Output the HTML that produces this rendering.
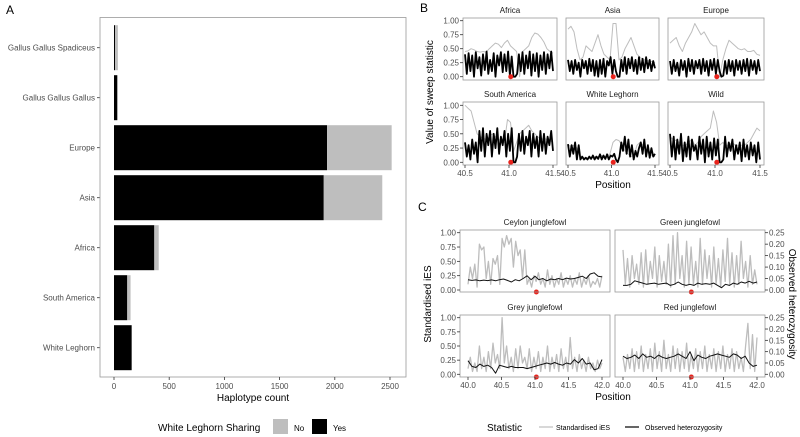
<!DOCTYPE html>
<html><head><meta charset="utf-8"><style>
html,body{margin:0;padding:0;background:#fff}
svg{display:block;font-family:"Liberation Sans",sans-serif}
</style></head><body>
<svg id="fig" width="800" height="437" viewBox="0 0 800 437"></svg>
<script>
// ---- Panel A data ----
const aCategories=["Gallus Gallus Spadiceus","Gallus Gallus Gallus","Europe","Asia","Africa","South America","White Leghorn"];
const aYes=[10,30,1930,1900,365,120,160];
const aNo=[25,0,585,530,40,30,0];
const aTicks=[0,500,1000,1500,2000,2500];
// ---- Panel B data (values 40.5..41.5, equally spaced) ----
const bPanels=["Africa","Asia","Europe","South America","White Leghorn","Wild"];
const bTicks=[40.5,41.0,41.5];
const bGray=[
[0.45,0.46,0.5,0.48,0.45,0.44,0.45,0.44,0.5,0.55,0.6,0.58,0.52,0.6,0.65,0.55,0.5,0.45,0.0,0.45,0.5,0.55,0.7,0.78,0.76,0.7,0.62,0.5,0.45,0.42],
[0.85,0.9,0.8,0.5,0.3,0.35,0.55,0.5,0.45,0.6,0.75,0.55,0.4,0.35,0.3,0.95,0.95,0.3,0.35,0.5,0.6,0.7,0.55,0.4,0.35,0.3,0.3,0.28,0.27,0.25],
[0.6,0.65,0.7,0.55,0.45,0.6,0.7,0.8,0.95,0.85,0.75,0.8,0.7,0.6,0.55,0.55,0.0,0.3,0.5,0.65,0.6,0.55,0.5,0.48,0.5,0.45,0.45,0.47,0.4,0.38],
[1.0,0.95,0.9,0.7,0.5,0.45,0.42,0.4,0.45,0.5,0.45,0.4,0.38,0.35,0.75,0.7,0.2,0.35,0.5,0.55,0.6,0.65,0.55,0.5,0.45,0.4,0.42,0.4,0.38,0.35],
[0.3,0.28,0.3,0.25,0.1,0.08,0.08,0.07,0.08,0.1,0.1,0.12,0.1,0.1,0.15,0.35,0.4,0.38,0.3,0.2,0.15,0.1,0.12,0.3,0.35,0.3,0.2,0.15,0.12,0.1],
[0.45,0.4,0.38,0.35,0.3,0.3,0.35,0.4,0.3,0.35,0.45,0.5,0.55,0.6,0.9,0.7,0.3,0.35,0.3,0.3,0.35,0.3,0.3,0.3,0.3,0.35,0.4,0.5,0.6,0.55]];
const bBlack=[
[0.4,0.05,0.42,0.1,0.38,0.0,0.44,0.15,0.35,0.02,0.4,0.12,0.45,0.05,0.3,0.1,0.42,0.0,0.38,0.2,0.44,0.08,0.4,0.1,0.45,0.02,0.36,0.0,0.0,0.05,0.4,0.1,0.44,0.05,0.38,0.15,0.45,0.02,0.4,0.1,0.42,0.0,0.38,0.12,0.44,0.05,0.4,0.15,0.45,0.1],
[0.3,0.1,0.28,0.05,0.3,0.12,0.25,0.0,0.3,0.15,0.28,0.05,0.32,0.1,0.3,0.02,0.28,0.0,0.3,0.05,0.32,0.0,0.28,0.2,0.35,0.05,0.3,0.1,0.0,0.0,0.3,0.1,0.35,0.05,0.32,0.15,0.35,0.1,0.3,0.05,0.35,0.12,0.32,0.08,0.35,0.15,0.3,0.1,0.28,0.15],
[0.28,0.05,0.3,0.1,0.25,0.02,0.3,0.12,0.28,0.0,0.32,0.1,0.3,0.05,0.28,0.15,0.3,0.05,0.32,0.1,0.28,0.02,0.3,0.12,0.32,0.05,0.3,0.1,0.0,0.02,0.28,0.05,0.3,0.1,0.28,0.02,0.3,0.12,0.28,0.05,0.3,0.1,0.32,0.02,0.3,0.12,0.28,0.05,0.3,0.1],
[0.35,0.1,0.3,0.05,0.4,0.15,0.35,0.0,0.55,0.2,0.6,0.1,0.5,0.3,0.55,0.1,0.5,0.25,0.6,0.15,0.45,0.3,0.55,0.1,0.5,0.2,0.6,0.0,0.0,0.1,0.5,0.2,0.55,0.15,0.45,0.3,0.55,0.1,0.5,0.25,0.45,0.1,0.55,0.2,0.5,0.15,0.45,0.3,0.55,0.2],
[0.32,0.1,0.3,0.15,0.35,0.05,0.3,0.05,0.1,0.05,0.08,0.05,0.1,0.06,0.12,0.05,0.1,0.06,0.14,0.05,0.12,0.06,0.14,0.05,0.12,0.1,0.15,0.05,0.0,0.1,0.35,0.2,0.45,0.15,0.4,0.1,0.3,0.05,0.2,0.1,0.25,0.35,0.15,0.4,0.1,0.3,0.08,0.25,0.1,0.15],
[0.5,0.1,0.45,0.05,0.4,0.15,0.5,0.02,0.35,0.1,0.45,0.05,0.4,0.2,0.3,0.05,0.45,0.15,0.4,0.0,0.45,0.1,0.35,0.05,0.42,0.12,0.4,0.0,0.0,0.05,0.45,0.1,0.35,0.2,0.4,0.05,0.3,0.15,0.35,0.02,0.4,0.1,0.3,0.05,0.35,0.12,0.3,0.0,0.35,0.05]];
// ---- Panel C data (40.0..42.0) ----
const cPanels=["Ceylon junglefowl","Green junglefowl","Grey junglefowl","Red junglefowl"];
const cTicks=[40.0,40.5,41.0,41.5,42.0];
const cLeftTicks=[0,0.25,0.5,0.75,1.0];
const cRightTicks=[0,0.05,0.1,0.15,0.2,0.25];
const cIES=[
[0.1,0.4,0.2,0.45,0.05,0.8,0.7,0.75,0.2,0.5,0.1,0.55,0.45,0.6,0.1,0.9,0.75,0.95,0.8,0.9,0.4,0.85,0.6,0.7,0.2,0.7,0.1,0.2,0.05,0.25,0.15,0.3,0.1,0.2,0.05,0.35,0.1,0.25,0.05,0.2,0.1,0.3,0.05,0.2,0.1,0.25,0.05,0.2,0.1,0.3,0.05,0.2,0.1,0.25,0.05,0.15,0.1,0.2,0.05,0.25],
[0.7,0.1,0.55,0.05,0.6,0.2,0.45,0.1,0.65,0.05,0.7,0.1,0.5,0.2,0.75,0.05,0.6,0.15,0.5,0.1,0.8,0.05,0.95,0.1,1.0,0.2,0.6,0.05,0.85,0.1,0.75,0.1,0.5,0.05,0.9,0.1,0.7,0.2,0.6,0.05,0.75,0.1,0.55,0.05,0.7,0.15,0.9,0.1,0.65,0.05,0.6,0.1,0.85,0.2,0.5,0.05,0.6,0.1,0.35,0.1],
[0.1,0.3,0.05,0.2,0.05,0.5,0.1,0.3,0.05,0.4,0.1,0.55,0.2,0.35,0.1,1.0,0.2,0.5,0.1,0.3,0.05,0.45,0.1,0.5,0.2,0.3,0.1,0.45,0.05,0.3,0.1,0.4,0.05,0.3,0.1,0.5,0.05,0.3,0.1,0.35,0.05,0.45,0.1,0.3,0.05,0.65,0.1,0.3,0.05,0.35,0.1,0.25,0.05,0.3,0.1,0.2,0.05,0.25,0.1,0.2],
[0.3,0.05,0.35,0.1,0.45,0.05,0.4,0.1,0.5,0.05,0.35,0.1,0.45,0.05,0.55,0.1,0.4,0.05,0.6,0.1,0.35,0.05,0.5,0.1,0.45,0.05,0.4,0.1,0.55,0.05,0.35,0.1,0.45,0.05,0.4,0.1,0.5,0.05,0.35,0.1,0.45,0.05,0.4,0.1,0.5,0.05,0.35,0.1,0.45,0.05,0.4,0.1,0.3,0.05,0.5,0.9,0.1,0.7,0.05,0.65]];
const cHet=[
[0.045,0.042,0.044,0.04,0.043,0.041,0.044,0.04,0.045,0.048,0.042,0.035,0.045,0.04,0.05,0.062,0.045,0.06,0.045,0.05,0.04,0.048,0.045,0.05,0.045,0.052,0.048,0.05,0.055,0.06,0.05,0.07,0.075,0.06,0.057],
[0.02,0.02,0.025,0.04,0.035,0.03,0.025,0.028,0.03,0.025,0.028,0.03,0.02,0.025,0.035,0.025,0.02,0.025,0.02,0.03,0.025,0.028,0.025,0.03,0.02,0.01,0.025,0.02,0.03,0.025,0.035,0.03,0.038,0.03,0.035],
[0.06,0.035,0.03,0.045,0.035,0.04,0.03,0.005,0.04,0.035,0.03,0.035,0.03,0.03,0.03,0.025,0.03,0.035,0.04,0.045,0.05,0.045,0.052,0.045,0.04,0.05,0.045,0.065,0.05,0.07,0.045,0.05,0.02,0.025,0.065],
[0.08,0.07,0.075,0.085,0.07,0.09,0.075,0.08,0.07,0.085,0.075,0.07,0.075,0.08,0.09,0.08,0.07,0.1,0.06,0.085,0.075,0.07,0.08,0.085,0.09,0.085,0.08,0.075,0.09,0.085,0.07,0.08,0.05,0.035,0.04]];

const NS="http://www.w3.org/2000/svg";
const svg=document.getElementById('fig');
function mk(tag,attrs,parent){const e=document.createElementNS(NS,tag);for(const k in attrs)e.setAttribute(k,attrs[k]);(parent||svg).appendChild(e);return e;}
function txt(s,x,y,size,fill,anchor,parent,rot){const t=mk('text',{x:x,y:y,'font-size':size,fill:fill,'text-anchor':anchor||'start'},parent);if(rot)t.setAttribute('transform','rotate('+rot+' '+x+' '+y+')');t.textContent=s;return t;}
function path(vals,xs,ys,x0,x1,stroke,w,parent){let d='';const n=vals.length;for(let i=0;i<n;i++){const x=xs(x0+(x1-x0)*i/(n-1));d+=(i?'L':'M')+x.toFixed(1)+' '+ys(vals[i]).toFixed(1);}return mk('path',{d:d,fill:'none',stroke:stroke,'stroke-width':w,'stroke-linejoin':'round'},parent);}

// ===== Panel A =====
const gA=mk('g',{});


txt('A',6,14,12,'#000','start',gA);
const ax=v=>114+v*0.1104;
const ayC=i=>47.7+i*50;
aCategories.forEach((c,i)=>{
  const y=ayC(i);
  const r1=mk('rect',{x:ax(0),y:y-22.5,width:ax(aYes[i])-ax(0),height:45,fill:'#000'},gA);
  
  
  if(aNo[i]>0){const r2=mk('rect',{x:ax(aYes[i]),y:y-22.5,width:ax(aYes[i]+aNo[i])-ax(aYes[i]),height:45,fill:'#bebebe'},gA);
  
  }
  mk('line',{x1:97,x2:100,y1:y,y2:y,stroke:'#333','stroke-width':0.8},gA);
  txt(c,95,y+3,8,'#4d4d4d','end',gA);
});
mk('rect',{x:100,y:17.5,width:306,height:359.5,fill:'none',stroke:'#999','stroke-width':0.8},gA);
aTicks.forEach(t=>{mk('line',{x1:ax(t),x2:ax(t),y1:377,y2:380,stroke:'#333','stroke-width':0.8},gA);txt(String(t),ax(t),389,8,'#4d4d4d','middle',gA);});
txt('Haplotype count',253,401,10,'#000','middle',gA);
txt('White Leghorn Sharing',158,431,10,'#000','start',gA);
mk('rect',{x:273,y:419,width:15,height:15,fill:'#bebebe'},gA);
txt('No',294,431,8,'#000','start',gA);
mk('rect',{x:312,y:419,width:15,height:15,fill:'#000'},gA);
txt('Yes',333,431,8,'#000','start',gA);

// ===== Panel B =====
const gB=mk('g',{});


txt('B',420,12,12,'#000','start',gB);
const bCols=[[463,557],[566,659],[668,764]];
const bRows=[[18,80,20.7,76.7],[102,165,105.3,162.3]];
bPanels.forEach((name,k)=>{
  const c=bCols[k%3],r=bRows[Math.floor(k/3)];
  const g=mk('g',{},gB);
  
  
  const xs=v=>c[0]+2+(v-40.5)/1.0*(c[1]-c[0]-6);
  const ys=v=>r[3]+(r[2]-r[3])*v;
  path(bGray[k],xs,ys,40.5,41.5,'#bdbdbd',1,g);
  path(bBlack[k],xs,ys,40.5,41.5,'#000',1.8,g);
  mk('circle',{cx:xs(41.02),cy:ys(0),r:2.5,fill:'#e8231c'},g);
  mk('rect',{x:c[0],y:r[0],width:c[1]-c[0],height:r[1]-r[0],fill:'none',stroke:'#999','stroke-width':0.8},g);
  txt(name,(c[0]+c[1])/2,r[0]-5,8,'#1a1a1a','middle',g);
  if(k%3===0){[0,0.25,0.5,0.75,1].forEach(t=>{mk('line',{x1:c[0]-3,x2:c[0],y1:ys(t),y2:ys(t),stroke:'#333','stroke-width':0.8},g);txt(t.toFixed(2),c[0]-4,ys(t)+3,8,'#4d4d4d','end',g);});}
  if(k>=3){bTicks.forEach(t=>{mk('line',{x1:xs(t),x2:xs(t),y1:r[1],y2:r[1]+3,stroke:'#333','stroke-width':0.8},g);txt(t.toFixed(1),xs(t),r[1]+11,8,'#4d4d4d','middle',g);});}
});
txt('Value of sweep statistic',433,92,10,'#000','middle',gB,-90);
txt('Position',613,188,10,'#000','middle',gB);

// ===== Panel C =====
const gC=mk('g',{});


txt('C',418,211,12,'#000','start',gC);
const cCols=[[460,610],[615,765]];
const cRows=[[230,292,232.7,290],[315,377,317.7,374.3]];
cPanels.forEach((name,k)=>{
  const c=cCols[k%2],r=cRows[Math.floor(k/2)];
  const g=mk('g',{},gC);
  
  
  const xs=v=>c[0]+8+(v-40)/2*(c[1]-c[0]-16);
  const ys=v=>r[3]+(r[2]-r[3])*v;
  const yr=v=>ys(v/0.25);
  path(cIES[k],xs,ys,40,42,'#bdbdbd',1.3,g);
  path(cHet[k],xs,yr,40,42,'#111',1,g);
  mk('circle',{cx:xs(41.02),cy:r[1],r:2.5,fill:'#e8231c'},g);
  mk('rect',{x:c[0],y:r[0],width:c[1]-c[0],height:r[1]-r[0],fill:'none',stroke:'#999','stroke-width':0.8},g);
  txt(name,(c[0]+c[1])/2,r[0]-5,8,'#1a1a1a','middle',g);
  if(k%2===0){cLeftTicks.forEach(t=>{mk('line',{x1:c[0]-3,x2:c[0],y1:ys(t),y2:ys(t),stroke:'#333','stroke-width':0.8},g);txt(t.toFixed(2),c[0]-4,ys(t)+3,8,'#4d4d4d','end',g);});}
  else{cRightTicks.forEach(t=>{mk('line',{x1:c[1],x2:c[1]+3,y1:yr(t),y2:yr(t),stroke:'#333','stroke-width':0.8},g);txt(t.toFixed(2),c[1]+4,yr(t)+3,8,'#4d4d4d','start',g);});}
  if(k>=2){cTicks.forEach(t=>{mk('line',{x1:xs(t),x2:xs(t),y1:r[1],y2:r[1]+3,stroke:'#333','stroke-width':0.8},g);txt(t.toFixed(1),xs(t),r[1]+11,8,'#4d4d4d','middle',g);});}
});
txt('Standardised iES',431,304,10,'#000','middle',gC,-90);
txt('Observed heterozygosity',789,304,10,'#000','middle',gC,90);
txt('Position',613,400,10,'#000','middle',gC);
txt('Statistic',487,431,10,'#000','start',gC);
mk('line',{x1:539,x2:553,y1:427,y2:427,stroke:'#bdbdbd','stroke-width':1.2},gC);
txt('Standardised iES',556,430,7,'#000','start',gC);
mk('line',{x1:625,x2:639,y1:427,y2:427,stroke:'#000','stroke-width':1.2},gC);
txt('Observed heterozygosity',645,430,7,'#000','start',gC);
</script>
</body></html>
